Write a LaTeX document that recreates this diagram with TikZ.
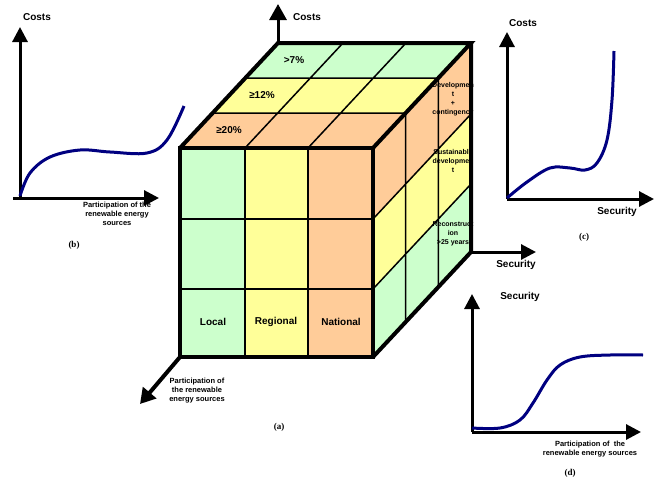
\documentclass[tikz,border=0pt]{standalone}
\usepackage{fontspec}
\setmainfont{Liberation Sans}
\newfontfamily\capfont{Liberation Serif}
\usetikzlibrary{arrows.meta}
\definecolor{cgreen}{HTML}{CCFFCC}
\definecolor{cyellow}{HTML}{FFFF99}
\definecolor{corange}{HTML}{FFCC99}
\definecolor{cnavy}{HTML}{000080}
\tikzset{
  axisline/.style={line width=3pt,-{Triangle[length=15pt,width=15pt]}},
  curveline/.style={cnavy,line width=3pt},
  thinline/.style={line width=1.5pt},
  thickline/.style={line width=4pt,line join=miter},
  lbl/.style={font=\bfseries\fontsize{10}{12}\selectfont,inner sep=0pt},
  smalllbl/.style={font=\bfseries\fontsize{7.5}{9}\selectfont,align=center,inner sep=0pt},
  sidelbl/.style={font=\bfseries\fontsize{7}{9}\selectfont,align=center,inner sep=0pt},
  figcap/.style={font=\capfont\bfseries\fontsize{9}{11}\selectfont,inner sep=0pt},
}
\begin{document}
\begin{tikzpicture}[x=1pt,y=-1pt]
\useasboundingbox (0,0) rectangle (660,479);
% ---------- cube (a) ----------
% front face
\fill[cgreen] (180,148) rectangle (245,357);
\fill[cyellow] (245,148) rectangle (308,357);
\fill[corange] (308,148) rectangle (373,357);
% top face bands
\fill[corange] (180,148) -- (373,148) -- (405.7,113) -- (212.7,113) -- cycle;
\fill[cyellow] (212.7,113) -- (405.7,113) -- (438.3,78) -- (245.3,78) -- cycle;
\fill[cgreen] (245.3,78) -- (438.3,78) -- (471,43) -- (278,43) -- cycle;
% right face bands
\fill[corange] (373,148) -- (471,43) -- (471,114) -- (373,219) -- cycle;
\fill[cyellow] (373,219) -- (471,114) -- (471,184) -- (373,289) -- cycle;
\fill[cgreen] (373,289) -- (471,184) -- (471,252) -- (373,357) -- cycle;
% inner lines
\draw[thinline] (245,148) -- (245,357) (308,148) -- (308,357)
  (180,219) -- (373,219) (180,289) -- (373,289);
\draw[thinline] (212.7,113) -- (405.7,113) (245.3,78) -- (438.3,78)
  (245,148) -- (343,43) (308,148) -- (406,43);
\draw[thinline] (405.7,113) -- (405.7,322) (438.3,78) -- (438.3,287)
  (373,219) -- (471,114) (373,289) -- (471,184);
% outer edges
\draw[thickline] (180,148) rectangle (373,357);
\draw[thickline] (180,148) -- (278,43) -- (471,43) -- (373,148);
\draw[thickline] (471,43) -- (471,252) -- (373,357);
% axis points
\coordinate (cO) at (278,43);
\coordinate (cT) at (278,4);
\coordinate (sO) at (471,252);
\coordinate (sT) at (536,252);
\coordinate (pO) at (180,357);
\coordinate (pT) at (140,404);
\draw[line width=3pt,-{Triangle[length=16pt,width=17pt]}] (cO) -- (cT);
\draw[line width=3pt,-{Triangle[length=15pt,width=15pt]}] (sO) -- (sT);
\draw[line width=4pt,-{Triangle[length=15pt,width=17pt]}] (pO) -- (pT);
\node[lbl] (lcosts) at (307,17) {Costs};
\node[lbl] (lsec) at (516,265) {Security};
\node[smalllbl] (lpart) at (197,391) {Participation of\\the renewable\\energy sources};
% labels
\node[lbl] (t7) at (294,60) {>7\%};
\node[lbl] (t12) at (262,95) {≥12\%};
\node[lbl] (t20) at (229,130) {≥20\%};
\node[lbl] (local) at (213,322) {Local};
\node[lbl] (regional) at (276,322) {Regional};
\node[lbl] (national) at (341,322) {National};
\node[sidelbl] (dev) at (453,99) {Developmen\\t\\+\\contingency};
\node[sidelbl] (sus) at (453,161) {Sustainable\\developmen\\t};
\node[sidelbl] (rec) at (453,234) {Reconstruct\\ion\\>25 years};
\node[figcap] (ca) at (279,427) {(a)};
% ---------- graph (b) ----------
\coordinate (bO) at (20,198);
\coordinate (bY) at (20,27);
\coordinate (bX) at (13,198);
\coordinate (bXT) at (159,198);
\draw[axisline] (bO) -- (bY);
\draw[axisline] (bX) -- (bXT);
\node[lbl] (bcosts) at (37,17) {Costs};
\node[smalllbl] (bpart) at (117,214) {Participation of the\\renewable energy\\sources};
\node[figcap] (cb) at (74,245) {(b)};
\draw[curveline] plot[smooth,tension=0.6] coordinates {(20,196) (30,173) (50,157) (80,150) (110,152) (147,153) (167,140) (184,106)};
% ---------- graph (c) ----------
\coordinate (cO2) at (507,199);
\coordinate (cY2) at (507,32);
\coordinate (cXT2) at (654,199);
\draw[axisline] (cO2) -- (cY2);
\draw[axisline] (cO2) -- (cXT2);
\node[lbl] (ccosts) at (523,23) {Costs};
\node[lbl] (csec) at (617,212) {Security};
\node[figcap] (cc) at (584,237) {(c)};
\draw[curveline] plot[smooth,tension=0.6] coordinates {(507,198) (527,182) (550,168) (570,168) (585,170) (597,163) (607,140) (612,100) (614,51)};
% ---------- graph (d) ----------
\coordinate (dO) at (472,432);
\coordinate (dY) at (472,294);
\coordinate (dXT) at (641,432);
\draw[axisline] (dO) -- (dY);
\draw[axisline] (dO) -- (dXT);
\node[lbl] (dsec) at (520,297) {Security};
\node[smalllbl] (dpart) at (590,449) {Participation of \ the\\renewable energy sources};
\node[figcap] (cd) at (570,473) {(d)};
\draw[curveline] plot[smooth,tension=0.6] coordinates {(472,428) (500,428) (520,420) (533,403) (547,380) (560,365) (580,357) (610,355) (643,355)};
\end{tikzpicture}
\end{document}
